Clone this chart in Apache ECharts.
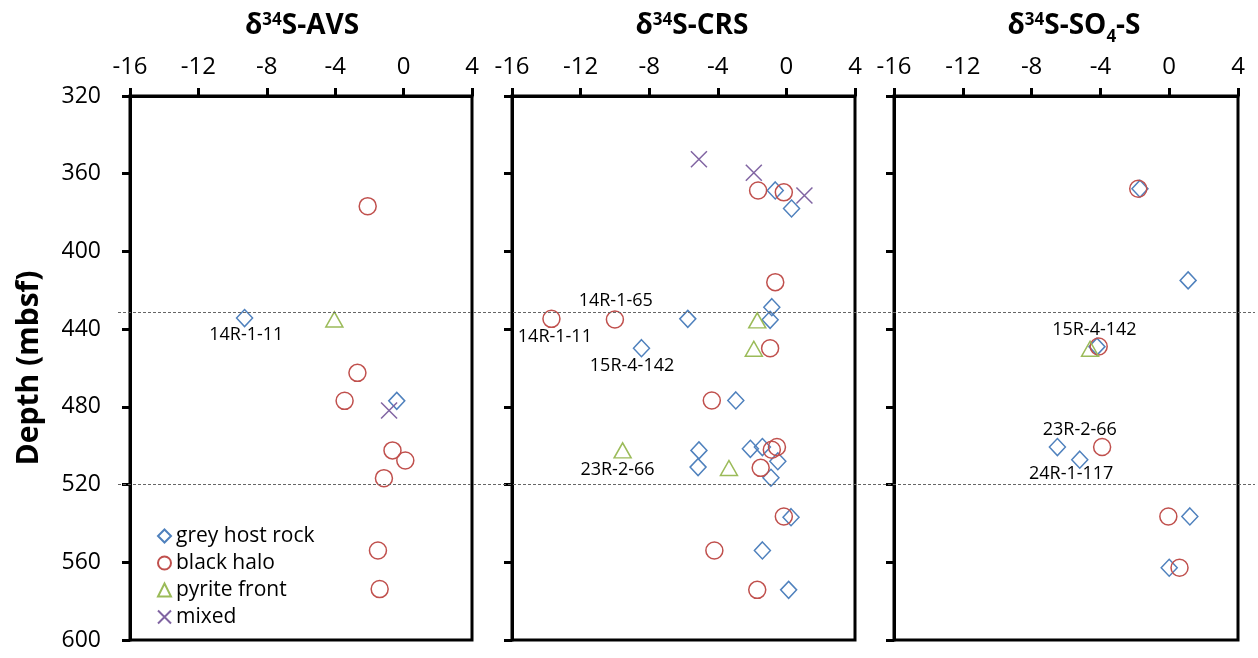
<!DOCTYPE html>
<html>
<head>
<meta charset="utf-8">
<script src="https://cdn.jsdelivr.net/npm/echarts@6/dist/echarts.min.js"></script>
<style>
  html, body { margin: 0; padding: 0; background: #fff; }
  #chart { width: 1258px; height: 658px; }
</style>
</head>
<body>
<div id="chart"></div>
<script>
// categories
const categories = ["grey host rock", "black halo", "pyrite front", "mixed"];
const xTicks = { min: -16, max: 4, step: 4 };
const depthTicks = { min: 320, max: 600, step: 40 };
const boundaryDepths = [431.5, 520];

// d34S-AVS  [d34S, depth]
const avsGrey = [[-9.3, 434.3], [-0.4, 476.9]];
const avsBlack = [[-2.1, 376.7], [-2.7, 462.5], [-3.45, 476.9], [-0.65, 502.4], [0.1, 507.6],
  [-1.15, 516.7], [-1.5, 553.9], [-1.4, 573.8]];
const avsPyrite = [[-4.05, 435]];
const avsMixed = [[-0.85, 481.9]];

// d34S-CRS
const crsGrey = [[-0.65, 368.6], [0.3, 377.9], [-0.85, 428.7], [-5.75, 434.7], [-0.95, 435.2],
  [-8.45, 449.8], [-2.95, 476.7], [-5.1, 502.4], [-5.15, 511], [-2.1, 501.6], [-1.4, 500.7],
  [-0.5, 508], [-0.9, 516.5], [0.27, 536.8], [-1.4, 553.9], [0.13, 574.2]];
const crsBlack = [[-1.65, 368.6], [-0.15, 369.6], [-0.65, 415.8], [-13.7, 434.7], [-10, 435],
  [-0.95, 449.8], [-4.35, 476.7], [-0.85, 502.1], [-0.55, 500.7], [-1.5, 511.4], [-0.15, 536.4],
  [-4.2, 553.9], [-1.7, 574.2]];
const crsPyrite = [[-1.7, 435.5], [-1.9, 450.1], [-9.55, 502.4], [-3.35, 511.5]];
const crsMixed = [[-5.1, 352.6], [-1.9, 359.5], [1.05, 371.2]];

// d34S-SO4-S
const so4Grey = [[-1.7, 367.7], [1.1, 414.9], [-4.2, 449], [-6.5, 500.7], [-5.2, 507.2],
  [1.2, 536.4], [0.0, 562.8]];
const so4Black = [[-1.8, 367.7], [-4.1, 448.9], [-3.9, 500.7], [-0.05, 536.4], [0.6, 562.8]];
const so4Pyrite = [[-4.6, 450.1]];
const so4Mixed = [];

// sample labels [text, d34S, depth]
const avsLabels = [["14R-1-11", -9.2, 443.2]];
const crsLabels = [["14R-1-65", -9.95, 425.2], ["14R-1-11", -13.5, 443.8],
  ["15R-4-142", -9.0, 459], ["23R-2-66", -9.85, 512.2]];
const so4Labels = [["15R-4-142", -4.35, 440.3], ["23R-2-66", -5.2, 491.8], ["24R-1-117", -5.7, 514.4]];

const panels = [
  { title: "δ{sup|34}S-AVS", data: [avsGrey, avsBlack, avsPyrite, avsMixed], labels: avsLabels },
  { title: "δ{sup|34}S-CRS", data: [crsGrey, crsBlack, crsPyrite, crsMixed], labels: crsLabels },
  { title: "δ{sup|34}S-SO{sub|4}-S", data: [so4Grey, so4Black, so4Pyrite, so4Mixed], labels: so4Labels }
];

const FONT = "Open Sans";
const gridPos = [{ left: 130, width: 342 }, { left: 512, width: 343 }, { left: 894, width: 344 }];
const markerStyle = [
  { symbol: "diamond", size: [16, 17], color: "#4F81BD" },
  { symbol: "circle", size: 17, color: "#C0504D" },
  { symbol: "triangle", size: [17, 15], color: "#9BBB59" },
  { symbol: "path://M0,0L10,10M10,0L0,10", size: 16, color: "#8064A2" }
];

const chart = echarts.init(document.getElementById("chart"));

const grid = gridPos.map(g => ({
  left: g.left, width: g.width, top: 96, height: 544,
  show: true, borderColor: "#000", borderWidth: 3, backgroundColor: "transparent"
}));
grid.push({ left: 118, width: 1137, top: 96, height: 544 });

const xAxis = gridPos.map((g, i) => ({
  gridIndex: i, type: "value", position: "top",
  min: xTicks.min, max: xTicks.max, interval: xTicks.step,
  axisLine: { show: true, onZero: false, lineStyle: { color: "#000", width: 3 } },
  axisTick: { show: true, inside: false, length: 8, lineStyle: { color: "#000", width: 3 } },
  axisLabel: { fontSize: 24, color: "#000", fontFamily: FONT, margin: 17 },
  splitLine: { show: false }
}));
xAxis.push({ gridIndex: 3, type: "value", min: 0, max: 1, show: false });

const yAxis = gridPos.map((g, i) => ({
  gridIndex: i, type: "value", inverse: true,
  min: depthTicks.min, max: depthTicks.max, interval: depthTicks.step,
  name: i === 0 ? "Depth (mbsf)" : "",
  nameLocation: "middle", nameGap: 86,
  nameTextStyle: { fontSize: 30, fontWeight: "bold", color: "#000", fontFamily: FONT },
  axisLine: { show: true, onZero: false, lineStyle: { color: "#000", width: 3 } },
  axisTick: { show: true, inside: false, length: 8, lineStyle: { color: "#000", width: 3 } },
  axisLabel: { show: i === 0, fontSize: 23, color: "#000", fontFamily: FONT, margin: 29 },
  splitLine: { show: false }
}));
yAxis.push({ gridIndex: 3, type: "value", inverse: true, min: depthTicks.min, max: depthTicks.max, show: false });

const series = [{
  type: "line", xAxisIndex: 3, yAxisIndex: 3, data: [], silent: true,
  markLine: {
    silent: true, symbol: "none", animation: false,
    label: { show: false },
    lineStyle: { color: "#666", width: 1, type: [3, 2] },
    data: boundaryDepths.map(d => ({ yAxis: d }))
  }
}];

panels.forEach((p, i) => {
  p.data.forEach((pts, c) => {
    const m = markerStyle[c];
    series.push({
      type: "scatter", name: categories[c], xAxisIndex: i, yAxisIndex: i,
      data: pts, symbol: m.symbol, symbolSize: m.size,
      itemStyle: { color: "rgba(0,0,0,0)", borderColor: m.color, borderWidth: 1.5, opacity: 1 }
    });
  });
  // sample labels, text only
  series.push({
    type: "scatter", xAxisIndex: i, yAxisIndex: i, silent: true, symbolSize: 0,
    itemStyle: { opacity: 1 },
    data: p.labels.map(l => ({ name: l[0], value: [l[1], l[2]] })),
    label: {
      show: true, position: "inside", formatter: "{b}", fontSize: 18,
      color: "#000", textBorderWidth: 0, fontFamily: FONT
    }
  });
});

const titleCenters = [297, 687, 1069];
const title = panels.map((p, i) => ({
  text: p.title, left: titleCenters[i], top: 7, textAlign: "center",
  textStyle: {
    fontSize: 28, fontWeight: "bold", color: "#000", fontFamily: FONT,
    rich: {
      sup: { fontSize: 17, fontWeight: "bold", color: "#000", fontFamily: FONT, verticalAlign: "top" },
      sub: { fontSize: 17, fontWeight: "bold", color: "#000", fontFamily: FONT, verticalAlign: "bottom", padding: [0, 0, -6, 0] }
    }
  }
}));

chart.setOption({
  animation: false,
  title,
  legend: {
    data: categories, orient: "vertical", left: 152, top: 520,
    itemWidth: 13, itemHeight: 13, itemGap: 5,
    textStyle: { fontSize: 21, lineHeight: 22, color: "#000", fontFamily: FONT }
  },
  grid, xAxis, yAxis, series
});
</script>
</body>
</html>
